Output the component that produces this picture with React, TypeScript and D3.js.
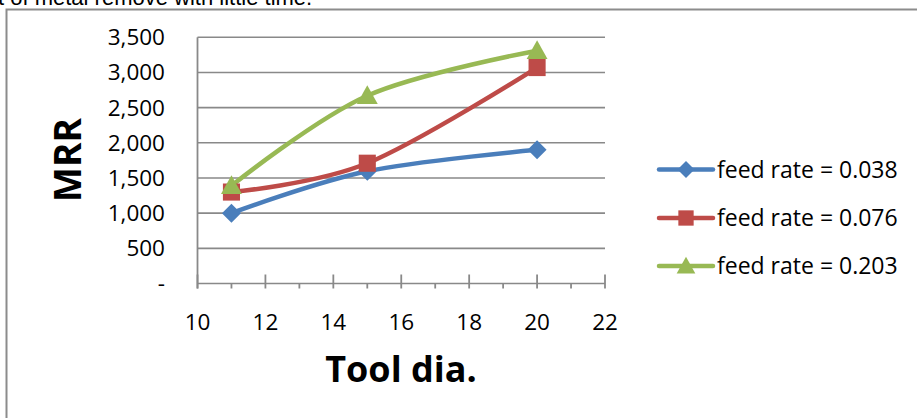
import React from "react";
import * as d3 from "d3";

const toolDia = [11, 15, 20];
const seriesNames = ["feed rate = 0.038", "feed rate = 0.076", "feed rate = 0.203"];
const mrr038 = [1000, 1595, 1900];
const mrr076 = [1300, 1710, 3070];
const mrr203 = [1390, 2670, 3310];
const yTicks = [0, 500, 1000, 1500, 2000, 2500, 3000, 3500];
const xTicks = [10, 12, 14, 16, 18, 20, 22];
const xMinorTicks = [11, 13, 15, 17, 19, 21];
const colors = ["#4A7EBB", "#BE4B48", "#98B954"];
const shapes = ["diamond", "square", "triangle"];

const W = 917, H = 418;
const FONT = "'Open Sans', sans-serif";

function Marker({ shape, x, y, color, s }: { shape: string; x: number; y: number; color: string; s: number }) {
  if (shape === "diamond") {
    const h = s / 2;
    return <path d={`M${x},${y - h}L${x + h},${y}L${x},${y + h}L${x - h},${y}Z`} fill={color} />;
  }
  if (shape === "square") {
    const h = s * 0.45;
    return <rect x={x - h} y={y - h} width={2 * h} height={2 * h} fill={color} />;
  }
  const h = s * 0.55;
  return <path d={`M${x},${y - h}L${x + h},${y + h * 0.8}L${x - h},${y + h * 0.8}Z`} fill={color} />;
}

export default function App() {
  const x = d3.scaleLinear().domain([10, 22]).range([197.5, 605]);
  const y = d3.scaleLinear().domain([0, 3500]).range([283.5, 37.3]);
  const data = [mrr038, mrr076, mrr203];
  const line = d3
    .line<[number, number]>()
    .x((d) => x(d[0]))
    .y((d) => y(d[1]))
    .curve(d3.curveCardinal.tension(0));
  const fmt = (v: number) => (v === 0 ? "-" : d3.format(",")(v));
  const legendY = [169.5, 218, 266];

  return (
    <svg width={W} height={H} style={{ position: "absolute", left: 0, top: 0, background: "#fff" }}>
      <text x={-2} y={5} fontFamily="'Liberation Sans', Arial, sans-serif" fontSize={22} fill="#000">
        t of metal remove with little time.
      </text>
      <path d={`M6.5,${H + 5}V9.5H${W + 5}`} fill="none" stroke="#8c8c8c" strokeWidth={2} />

      {yTicks.map((t) => (
        <line key={"g" + t} x1={x(10)} x2={x(22)} y1={y(t)} y2={y(t)} stroke="#898989" strokeWidth={1.6} />
      ))}
      <line x1={x(10)} x2={x(10)} y1={y(3500)} y2={y(0) + 5} stroke="#898989" strokeWidth={1.8} />
      {xTicks.map((t) => (
        <line key={"M" + t} x1={x(t)} x2={x(t)} y1={y(0) - 9} y2={y(0) + 5} stroke="#898989" strokeWidth={1.8} />
      ))}
      {xMinorTicks.map((t) => (
        <line key={"m" + t} x1={x(t)} x2={x(t)} y1={y(0)} y2={y(0) + 5} stroke="#898989" strokeWidth={1.8} />
      ))}

      {yTicks.map((t) => (
        <text key={"yl" + t} x={165} y={y(t)} dy="0.35em" textAnchor="end" fontFamily={FONT} fontSize={22.5} fill="#000">
          {fmt(t)}
        </text>
      ))}
      {xTicks.map((t) => (
        <text key={"xl" + t} x={x(t)} y={330} textAnchor="middle" fontFamily={FONT} fontSize={22.5} fill="#000">
          {t}
        </text>
      ))}

      {data.map((vals, i) => (
        <path
          key={"l" + i}
          d={line(toolDia.map((d, j) => [d, vals[j]]) as [number, number][]) || ""}
          fill="none"
          stroke={colors[i]}
          strokeWidth={4.5}
          strokeLinejoin="round"
          strokeLinecap="round"
        />
      ))}
      {data.map((vals, i) =>
        toolDia.map((d, j) => (
          <Marker key={"mk" + i + "-" + j} shape={shapes[i]} x={x(d)} y={y(vals[j])} color={colors[i]} s={19} />
        ))
      )}

      <text
        transform={`translate(81,160) rotate(-90)`}
        textAnchor="middle"
        fontFamily={FONT}
        fontWeight="bold"
        fontSize={37}
        fill="#000"
      >
        MRR
      </text>
      <text x={401} y={382} textAnchor="middle" fontFamily={FONT} fontWeight="bold" fontSize={36} fill="#000">
        Tool dia.
      </text>

      {seriesNames.map((n, i) => (
        <g key={"lg" + i}>
          <line x1={659} x2={713} y1={legendY[i]} y2={legendY[i]} stroke={colors[i]} strokeWidth={4.5} strokeLinecap="round" />
          <Marker shape={shapes[i]} x={686} y={legendY[i]} color={colors[i]} s={17} />
          <text x={717} y={legendY[i]} dy="0.36em" fontFamily={FONT} fontSize={23} fill="#000">
            {n}
          </text>
        </g>
      ))}
    </svg>
  );
}
